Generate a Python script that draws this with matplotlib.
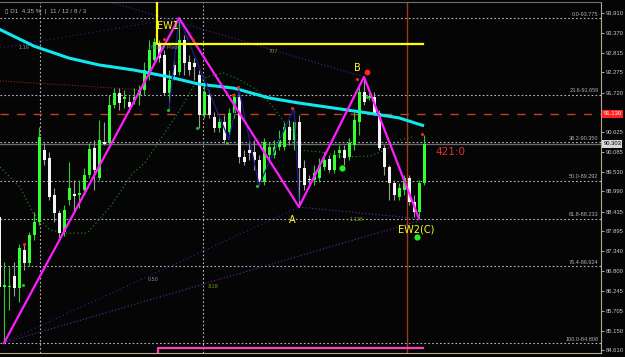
import numpy as np
import matplotlib
matplotlib.use('Agg')
from matplotlib import pyplot as plt
from matplotlib.transforms import blended_transform_factory

# daily candles, bar index = position
opens = [88.29, 86.35, 86.35, 86.66, 86.33, 87.37, 87.02, 87.79, 88.15, 90.13,
         89.91, 88.89, 88.40, 87.87, 88.75, 88.92, 88.89, 89.03, 89.44, 90.19,
         89.36, 90.35, 90.33, 91.38, 91.71, 91.54, 91.46, 91.51, 91.65, 91.79,
         92.29, 92.62, 93.03, 92.75, 91.71, 92.48, 92.29, 93.17, 92.56, 92.53,
         92.20, 91.10, 91.65, 91.04, 90.74, 90.91, 90.63, 91.15, 91.60, 89.94,
         90.13, 90.08, 89.86, 89.25, 90.00, 90.00, 90.22, 90.22, 90.77, 90.41,
         90.91, 89.64, 89.31, 89.31, 89.36, 89.66, 89.89, 89.58, 90.05, 90.13,
         89.94, 90.27, 90.91, 91.73, 91.57, 91.60, 91.15, 90.19, 89.66, 89.22,
         88.84, 89.03, 89.36, 88.70, 88.42, 89.22]
highs = [88.34, 87.04, 86.91, 87.04, 87.54, 87.54, 87.87, 88.42, 90.77, 90.33,
         90.08, 89.09, 88.48, 88.62, 89.80, 89.31, 89.31, 89.64, 90.33, 90.41,
         90.96, 90.91, 91.65, 91.84, 91.84, 91.79, 91.62, 91.84, 91.93, 92.56,
         93.17, 93.22, 93.17, 92.89, 92.34, 92.67, 93.775, 93.31, 92.75, 92.67,
         92.34, 92.01, 91.79, 91.18, 91.02, 91.10, 91.29, 91.71, 91.73, 90.13,
         90.41, 90.41, 90.00, 90.47, 90.35, 90.41, 90.69, 90.91, 90.96, 91.24,
         91.10, 89.86, 89.44, 89.72, 89.91, 90.08, 90.00, 90.13, 90.27, 90.27,
         90.47, 91.18, 91.93, 92.15, 91.79, 91.73, 91.24, 90.27, 89.72, 89.31,
         89.22, 89.44, 89.44, 88.89, 89.31, 90.55]
lows = [86.13, 84.81, 85.72, 86.11, 85.94, 86.82, 86.93, 87.65, 88.06, 89.72,
        88.75, 88.15, 87.65, 87.76, 88.62, 88.48, 88.53, 88.89, 89.36, 89.03,
        89.31, 90.27, 90.27, 91.29, 91.24, 91.29, 91.18, 91.40, 91.38, 91.65,
        92.07, 92.48, 92.56, 91.65, 91.24, 92.07, 92.20, 92.20, 92.20, 92.07,
        90.74, 91.02, 91.02, 90.63, 90.63, 90.33, 90.55, 91.02, 89.78, 89.72,
        89.86, 89.58, 89.17, 89.17, 89.86, 89.91, 90.13, 90.13, 90.27, 90.13,
        88.56, 89.03, 89.17, 89.17, 89.25, 89.58, 89.53, 89.50, 89.91, 89.72,
        89.86, 90.13, 90.55, 91.38, 91.51, 91.10, 90.13, 89.44, 88.75, 88.75,
        88.75, 88.89, 88.62, 88.29, 88.24, 89.17]
closes = [86.35, 86.41, 86.38, 86.33, 87.43, 87.02, 87.79, 88.15, 90.49, 89.86,
          88.84, 88.40, 87.84, 88.48, 89.09, 88.86, 88.95, 89.44, 90.16, 89.58,
          90.41, 90.30, 91.38, 91.71, 91.43, 91.60, 91.32, 91.60, 91.79, 92.34,
          92.89, 93.11, 92.67, 91.71, 92.07, 92.20, 93.17, 92.53, 92.34, 92.42,
          91.10, 91.73, 91.10, 90.74, 90.91, 90.41, 91.15, 91.60, 89.94, 89.80,
          90.05, 89.86, 89.25, 90.35, 90.22, 90.22, 90.41, 90.77, 90.41, 90.91,
          89.64, 89.17, 89.30, 89.50, 89.72, 89.86, 89.58, 90.00, 90.13, 89.91,
          90.33, 90.96, 91.73, 91.46, 91.62, 91.15, 90.19, 89.66, 89.22, 88.89,
          89.09, 89.36, 88.70, 88.42, 89.22, 90.30]

# moving average (cyan)
ma_x = [0, 7, 14, 20, 27, 34, 40, 47, 54, 60, 67, 74, 80, 85]
ma_y = [93.47, 93.00, 92.67, 92.48, 92.34, 92.15, 91.95, 91.84, 91.57, 91.43,
        91.29, 91.15, 91.02, 90.80]

# envelope-like dotted curves (dark green)
env1_x = [0.2, 4.2, 6.8, 10.2, 13.6, 17.6, 22.2, 26.8, 29.2, 32.2, 36.2, 38.8,
          41.6, 44.8, 48.2, 51.6, 54.8, 57.2, 59.6]
env1_y = [89.66, 89.11, 88.40, 87.93, 87.84, 87.84, 88.56, 89.50, 89.78, 90.41,
          91.24, 91.87, 92.15, 92.26, 92.07, 91.79, 91.32, 90.88, 90.55]
env2_x = [60.2, 64.2, 69.2, 74.2, 77.2, 80.2, 82.6]
env2_y = [90.13, 90.08, 89.94, 89.97, 90.13, 90.41, 90.49]

# Elliott wave zigzag
wave_x = [1, 36, 60, 73, 84]
wave_y = [84.81, 93.775, 88.56, 92.15, 88.24]
minor_x = [34, 36, 46, 48, 52, 59, 60]
minor_y = [91.24, 93.775, 90.41, 91.79, 89.17, 91.29, 88.75]

# fibonacci retracement
fib_pct = ['0.0', '23.6', '38.2', '50.0', '61.8', '76.4', '100.0']
fib_val = [93.775, 91.659, 90.350, 89.292, 88.233, 86.924, 84.808]

price_ticks = [93.910, 93.370, 92.815, 92.275, 91.720, 90.625, 90.085, 89.530,
               88.990, 88.435, 87.895, 87.340, 86.800, 86.245, 85.705, 85.150, 84.610]
bid = 90.303
pivot = 91.13
box_top = 93.06
range_bottom = 84.67

red_dot_x = [5, 33, 38.8, 46.8, 47.8, 58.6, 71.6, 84.6]
red_dot_y = [87.54, 93.20, 93.17, 91.65, 91.87, 91.29, 92.09, 90.57]
green_dot_x = [4.8, 33.8, 39.6, 45.6, 51.6, 73.6]
green_dot_y = [86.41, 91.24, 90.74, 90.33, 89.14, 91.60]
big_green_x = [68.6, 83.6]
big_green_y = [89.64, 87.73]

bg = '#050505'
small_font = ['Liberation Sans', 'DejaVu Sans']

fig = plt.figure(figsize=(6.25, 3.57), dpi=100, facecolor=bg)
ax = fig.add_axes([0, 4/357, 601/625, 351/357], facecolor=bg)
ax.set_xlim(0.2, 120.4)
ax.set_ylim(84.533, 94.217)

dot = (0, (1.5, 2))
# grid / fib lines
for p, v in zip(fib_pct, fib_val):
    ax.axhline(v, color='#b8b8c8', lw=0.8, ls=dot, zorder=1)
    ax.text(119.9, v + 0.04, '%s-%.3f' % (p, v), color='#b0b0b8', fontsize=4,
            family=small_font, ha='right', va='bottom', zorder=6)
for gx in [8.2, 40.8]:
    ax.axvline(gx, color='#b8b8b8', lw=0.8, ls=dot, zorder=1)
ax.axvline(81.6, color='#a03818', lw=1, zorder=1)
ax.axhline(pivot, color='#c04020', lw=1, ls=(0, (6, 6)), zorder=1)
ax.axhline(bid, color='#6a6a6a', lw=1, zorder=1)

# trend/fan lines
ax.plot([0.2, 29.2], [92.04, 91.79], color='#802818', lw=0.8, ls=(0, (1, 1.5)), zorder=1)
ax.plot([0.8, 60], [84.81, 88.56], color='#2a2a9a', lw=0.8, ls=(0, (1, 2.5)), zorder=1)
ax.plot([0.8, 84], [84.81, 88.18], color='#6a2aa8', lw=0.8, ls=(0, (1, 2)), zorder=1)
ax.plot([60, 84], [88.56, 88.24], color='#6a2aa8', lw=0.8, ls=(0, (1, 2)), zorder=1)
ax.plot([22.2, 72.6], [94.217, 92.17], color='#4a2a9a', lw=0.8, ls=(0, (1, 2)), zorder=1)
ax.plot([0.2, 35.8], [92.95, 93.775], color='#2a2a7a', lw=0.8, ls=(0, (1, 2.5)), zorder=1)

ax.plot(env1_x, env1_y, color='#1f7a1f', lw=0.9, ls=(0, (1, 2)), zorder=2)
ax.plot(env2_x, env2_y, color='#1f7a1f', lw=0.9, ls=(0, (1, 2)), zorder=2)

# candles
x = np.arange(len(opens))
o = np.array(opens); c = np.array(closes)
up = c >= o
wick_col = np.where(up, '#2ecc2e', '#9a9a9a')
ax.vlines(x, lows, highs, colors=wick_col, lw=0.8, zorder=3)
body_h = np.maximum(np.abs(c - o), 0.03)
body_b = np.minimum(o, c)
ax.bar(x[up], body_h[up], bottom=body_b[up], width=0.6, color='#33ff33', lw=0, zorder=4)
ax.bar(x[~up], body_h[~up], bottom=body_b[~up], width=0.6, color='#f4f4f4', lw=0, zorder=4)

ax.plot(ma_x, ma_y, color='#10e8f0', lw=2.2, zorder=5, solid_capstyle='butt')
ax.plot(minor_x, minor_y, color='#1c1c8c', lw=0.9, zorder=5)
ax.plot(wave_x, wave_y, color='#ff1cff', lw=1.6, zorder=6)

# yellow box & pink range
ax.plot([31.6, 31.6, 84.8], [94.3, box_top, box_top], color='#ffff00', lw=1.6, zorder=6)
ax.plot([31.8, 31.8, 84.8], [84.55, range_bottom, range_bottom], color='#ff40b0', lw=1.6, zorder=6)

ax.scatter(red_dot_x, red_dot_y, s=5, color='#ff2020', zorder=7, lw=0)
ax.scatter([73.6], [92.29], s=18, color='#ff2020', zorder=7, lw=0)
ax.scatter(green_dot_x, green_dot_y, s=5, color='#22bb22', zorder=7, lw=0)
ax.scatter(big_green_x, big_green_y, s=20, color='#22ee22', zorder=7, lw=0)

# wave labels
lab = dict(color='#ffff20', fontsize=7, ha='center', va='center', zorder=8)
ax.text(33.8, 93.55, 'EW1', **lab)
ax.text(71.6, 92.40, 'B', **lab)
ax.text(58.6, 88.20, 'A', **lab)
ax.text(83.4, 87.93, 'EW2(C)', **lab)
ax.text(87.2, 90.08, '421:0', color='#e83030', fontsize=7.5, ha='left', va='center', zorder=8)

small = dict(fontsize=4, family=small_font, ha='center', va='center', zorder=8)
ax.text(54.8, 92.86, '707', color='#6a9a20', **small)
ax.text(33, 92.95, 'Yearly Pivot', color='#8a8a8a', **small)
ax.text(5, 92.95, '1.19', color='#8a8a8a', **small)
ax.text(30.8, 86.57, '0.50', color='#8a8a8a', **small)
ax.text(42.8, 86.38, '.618', color='#6a9a20', **small)
ax.text(71.6, 88.23, '1.128', color='#6a9a20', **small)

fig.text(5/625, 1 - 12/357, '\u25af D1  4.35 %  |  11 / 12 / 8 / 3', color='#b0b0b0',
         fontsize=4.5, family=small_font, ha='left', va='center')

# price scale
ax.spines['left'].set_visible(False)
ax.spines['right'].set_color('#b8a890')
ax.spines['bottom'].set_color('#b8a890')
ax.spines['top'].set_color('#707070')
ax.set_xticks([])
ax.yaxis.tick_right()
ax.set_yticks(price_ticks)
ax.set_yticklabels(['%.3f' % p for p in price_ticks])
ax.tick_params(axis='y', colors='#c8c8c8', labelsize=4.2, length=2, width=0.6, pad=1.5)
for t in ax.get_yticklabels():
    t.set_family(small_font)

tr = blended_transform_factory(ax.transAxes, ax.transData)
ax.text(1.004, pivot, '91.130', transform=tr, color='white', fontsize=4.2,
        family=small_font, va='center', ha='left', zorder=9,
        bbox=dict(boxstyle='square,pad=0.2', fc='#ff2020', ec='none'))
ax.text(1.004, bid, '%.3f' % bid, transform=tr, color='black', fontsize=4.2,
        family=small_font, va='center', ha='left', zorder=9,
        bbox=dict(boxstyle='square,pad=0.2', fc='#d8d8d8', ec='none'))

fig.savefig('out.png', dpi=100, facecolor=bg)
